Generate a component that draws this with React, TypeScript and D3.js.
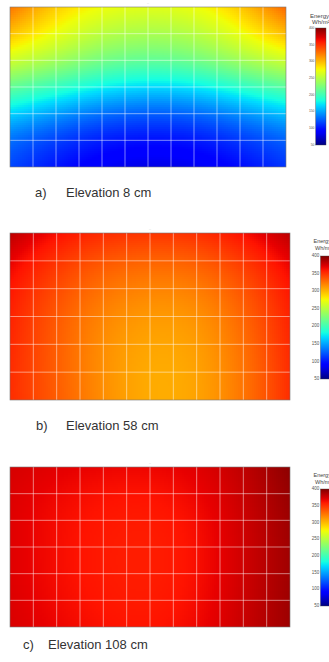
import React from "react";
import * as d3 from "d3";

// ---------- data ----------
const panelLetters = ["a)", "b)", "c)"];
const panelCaptions = ["Elevation 8 cm", "Elevation 58 cm", "Elevation 108 cm"];
const colorbarTicks = [50, 100, 150, 200, 250, 300, 350, 400];
const colorbarTitle = "Energy";
const colorbarUnit = "Wh/m²";
const energyDomain = [50, 400];
const gridColumns = 12;
const gridRows = 6;

// node values (7 rows top->bottom x 7 columns left->right), Wh/m²
const energy8cm = [
  [325, 290, 272, 266, 270, 292, 330],
  [298, 272, 250, 243, 248, 272, 300],
  [262, 245, 222, 214, 220, 244, 262],
  [215, 195, 175, 166, 170, 190, 210],
  [165, 145, 128, 122, 125, 140, 158],
  [128, 112, 100, 96, 98, 110, 124],
  [118, 100, 86, 80, 83, 96, 112],
];
const energy58cm = [
  [382, 362, 352, 348, 350, 362, 382],
  [368, 348, 335, 330, 332, 346, 368],
  [360, 340, 325, 318, 320, 336, 360],
  [356, 335, 318, 310, 312, 330, 356],
  [354, 334, 314, 306, 308, 326, 354],
  [352, 334, 314, 303, 306, 324, 352],
  [352, 335, 315, 303, 306, 324, 352],
];
const energy108cm = [
  [374, 370, 367, 366, 370, 380, 396],
  [372, 366, 362, 361, 366, 378, 393],
  [371, 364, 360, 358, 363, 376, 391],
  [371, 364, 359, 357, 362, 376, 390],
  [371, 364, 359, 357, 362, 376, 390],
  [372, 365, 360, 358, 363, 377, 391],
  [373, 367, 362, 360, 365, 378, 391],
];
const panelData = [energy8cm, energy58cm, energy108cm];

// ---------- layout ----------
const layout = [
  { x: 10, y: 7, w: 276, h: 160, cbX: 315.7, cbY: 28, cbW: 10.3, cbH: 117, tickFont: 3.3, titleFont: 6, titleX: 310, titleY: 17.5, unitX: 312, unitY: 24.3, letterX: 35, capX: 66, capY: 196.5 },
  { x: 10, y: 233, w: 280, h: 167, cbX: 320.5, cbY: 256, cbW: 10, cbH: 123, tickFont: 4.5, titleFont: 5.5, titleX: 313.5, titleY: 243, unitX: 315, unitY: 250, letterX: 36, capX: 66, capY: 430 },
  { x: 10, y: 467, w: 280, h: 160, cbX: 320.5, cbY: 489, cbW: 10, cbH: 117, tickFont: 4.5, titleFont: 5.5, titleX: 313.5, titleY: 477, unitX: 315, unitY: 484, letterX: 23, capX: 48, capY: 649 },
];

// ---------- jet colormap (matplotlib) ----------
const jetR = d3.scaleLinear().domain([0, 0.35, 0.66, 0.89, 1]).range([0, 0, 1, 1, 0.5]).clamp(true);
const jetG = d3.scaleLinear().domain([0, 0.125, 0.375, 0.64, 0.91, 1]).range([0, 0, 1, 1, 0, 0]).clamp(true);
const jetB = d3.scaleLinear().domain([0, 0.11, 0.34, 0.65, 1]).range([0.5, 1, 1, 0, 0]).clamp(true);
const norm = d3.scaleLinear().domain(energyDomain).range([0, 1]).clamp(true);
const jet = (v: number) => {
  const t = norm(v);
  return d3.rgb(jetR(t) * 255, jetG(t) * 255, jetB(t) * 255).formatHex();
};

const FONT = "'Liberation Sans', Arial, sans-serif";

function Heatmap({ data, L, idx }: { data: number[][]; L: any; idx: number }) {
  const step = 2;
  const nx = Math.round(L.w / step);
  const ny = Math.round(L.h / step);
  const xs = d3.scaleLinear().domain([0, nx]).range([L.x, L.x + L.w]);
  const ys = d3.scaleLinear().domain([0, ny]).range([L.y, L.y + L.h]);
  const rowInterps = data.map((row) => d3.interpolateBasis(row));
  const rects: React.ReactNode[] = [];
  for (let i = 0; i < nx; i++) {
    const u = (i + 0.5) / nx;
    const colInterp = d3.interpolateBasis(rowInterps.map((f) => f(u)));
    for (let j = 0; j < ny; j++) {
      const v = (j + 0.5) / ny;
      rects.push(
        <rect
          key={i * 1000 + j}
          x={xs(i)}
          y={ys(j)}
          width={xs(i + 1) - xs(i) + 0.6}
          height={ys(j + 1) - ys(j) + 0.6}
          fill={jet(colInterp(v))}
        />
      );
    }
  }
  const gx = d3.scaleLinear().domain([0, gridColumns]).range([L.x, L.x + L.w]);
  const gy = d3.scaleLinear().domain([0, gridRows]).range([L.y, L.y + L.h]);
  const cbScale = d3.scaleLinear().domain(energyDomain).range([L.cbY + L.cbH, L.cbY]);
  const gradId = `cbgrad${idx}`;
  const clipId = `clip${idx}`;
  const stops = d3.range(0, 1.0001, 0.02);
  return (
    <g>
      <defs>
        <clipPath id={clipId}>
          <rect x={L.x} y={L.y} width={L.w} height={L.h} />
        </clipPath>
        <linearGradient id={gradId} x1="0" y1="1" x2="0" y2="0">
          {stops.map((s) => (
            <stop key={s} offset={s} stopColor={jet(energyDomain[0] + s * (energyDomain[1] - energyDomain[0]))} />
          ))}
        </linearGradient>
      </defs>
      <g clipPath={`url(#${clipId})`} shapeRendering="crispEdges">{rects}</g>
      <g stroke="#ffffff" strokeOpacity={0.55} strokeWidth={0.9}>
        {d3.range(1, gridColumns).map((c) => (
          <line key={"v" + c} x1={gx(c)} x2={gx(c)} y1={L.y} y2={L.y + L.h} />
        ))}
        {d3.range(1, gridRows).map((r) => (
          <line key={"h" + r} x1={L.x} x2={L.x + L.w} y1={gy(r)} y2={gy(r)} />
        ))}
      </g>
      <rect x={L.x} y={L.y} width={L.w} height={L.h} fill="none" stroke="#777" strokeWidth={0.6} />
      <text x={L.x + L.w / 2} y={L.y - 2.5} fontSize={4} fill="#999" textAnchor="middle" fontFamily={FONT}>··</text>
      {/* colorbar */}
      <rect x={L.cbX} y={L.cbY} width={L.cbW} height={L.cbH} fill={`url(#${gradId})`} stroke="#444" strokeWidth={0.4} />
      {colorbarTicks.map((t) => (
        <text key={t} x={L.cbX - 1.3} y={cbScale(t)} fontSize={L.tickFont} fill="#555" textAnchor="end" dominantBaseline="middle" fontFamily={FONT}>
          {t}
        </text>
      ))}
      <text x={L.titleX} y={L.titleY} fontSize={L.titleFont} fill="#444" fontFamily={FONT}>{colorbarTitle}</text>
      <text x={L.unitX} y={L.unitY} fontSize={L.titleFont} fill="#444" fontFamily={FONT}>{colorbarUnit}</text>
      {/* caption */}
      <text x={L.letterX} y={L.capY} fontSize={13} fill="#333" fontFamily={FONT}>{panelLetters[idx]}</text>
      <text x={L.capX} y={L.capY} fontSize={13} fill="#333" fontFamily={FONT}>{panelCaptions[idx]}</text>
    </g>
  );
}

export default function App() {
  return (
    <svg
      width={329}
      height={662}
      style={{ position: "absolute", left: 0, top: 0, background: "#fff" }}
    >
      <rect x={0} y={0} width={329} height={662} fill="#fff" />
      {panelData.map((d, i) => (
        <Heatmap key={i} data={d} L={layout[i]} idx={i} />
      ))}
    </svg>
  );
}
